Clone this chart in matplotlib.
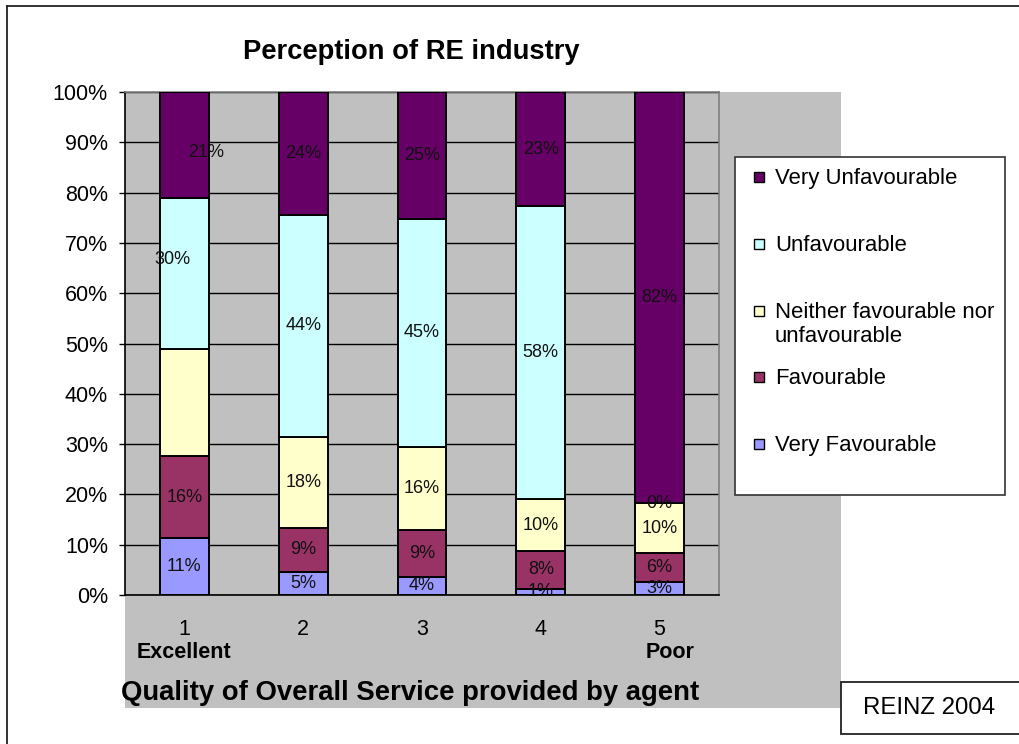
import matplotlib
matplotlib.use("Agg")
import matplotlib.pyplot as plt
from matplotlib.patches import Rectangle
from matplotlib.lines import Line2D
import numpy as np

plt.rcParams['font.family'] = ['Liberation Sans', 'DejaVu Sans']

# ---- data ----
categories = ['1', '2', '3', '4', '5']
series_names = ['Very Favourable', 'Favourable', 'Neither favourable nor\nunfavourable',
                'Unfavourable', 'Very Unfavourable']
very_fav = [11.3, 4.6, 3.6, 1.2, 2.6]
fav = [16.3, 8.7, 9.4, 7.6, 5.7]
neither = [21.3, 18.1, 16.4, 10.2, 9.9]
unfav = [30.0, 44.2, 45.4, 58.3, 0.0]
very_unfav = [21.1, 24.4, 25.2, 22.7, 81.8]
colors = ['#9999FF', '#993366', '#FFFFCC', '#CCFFFF', '#660066']
title = 'Perception of RE industry'
x_title = 'Quality of Overall Service provided by agent'
source = 'REINZ 2004'
hidden_labels = [(2, 0)]   # (series index, category index) with no data label

W, H = 1020, 744
fig = plt.figure(figsize=(W / 100, H / 100), dpi=100)

def fx(px):
    return px / W

def fy(py):
    return 1 - py / H

# outer frame (left & top visible)
fig.add_artist(Line2D([fx(7), fx(7)], [fy(6), 0], transform=fig.transFigure, color='#222222', lw=1.3))
fig.add_artist(Line2D([fx(7), 1], [fy(6), fy(6)], transform=fig.transFigure, color='#222222', lw=1.3))

# gray background area
fig.add_artist(Rectangle((fx(125), fy(708)), fx(841) - fx(125), fy(92) - fy(708),
                         transform=fig.transFigure, facecolor='#C0C0C0', edgecolor='none', zorder=0))

ax = fig.add_axes([fx(125), fy(595), fx(719) - fx(125), fy(92) - fy(595)])
ax.set_facecolor('#C0C0C0')
ax.set_zorder(1)

data = [very_fav, fav, neither, unfav, very_unfav]
x = np.arange(len(categories))
bottom = np.zeros(len(categories))
bar_w = 0.41
label_offsets = {(4, 0): (15.5, -5), (3, 0): (-8.3, 10)}  # points
for si, vals in enumerate(data):
    vals = np.array(vals)
    ax.bar(x, vals, bar_w, bottom=bottom, color=colors[si], edgecolor='black', lw=1.4, zorder=3)
    for ci, v in enumerate(vals):
        if (si, ci) in hidden_labels:
            continue
        cy = bottom[ci] + v / 2
        dx, dy = label_offsets.get((si, ci), (0, 0))
        ax.annotate(f'{v:.0f}%', (x[ci], cy), xytext=(dx, dy), textcoords='offset points',
                    ha='center', va='center', fontsize=13, color='#111111', zorder=5)
    bottom += vals

ax.set_xlim(-0.5, 4.5)
ax.set_ylim(0, 100)
ax.set_yticks(np.arange(0, 101, 10))
ax.set_yticklabels([f'{v}%' for v in range(0, 101, 10)], fontsize=15.5)
ax.set_xticks(x)
ax.set_xticklabels(categories, fontsize=15.5)
ax.tick_params(axis='x', length=0, pad=17)
ax.tick_params(axis='y', direction='out', length=4.3, width=1, pad=8)
ax.yaxis.grid(True, color='black', lw=1)
ax.set_axisbelow(True)
for s in ['top', 'right']:
    ax.spines[s].set_color('#808080')
    ax.spines[s].set_linewidth(1.2)
for s in ['left', 'bottom']:
    ax.spines[s].set_color('black')
    ax.spines[s].set_linewidth(1.2)

# titles
fig.text(fx(411), fy(52), title, ha='center', va='center', fontsize=19.7, fontweight='bold')
fig.text(fx(184), fy(653), 'Excellent', ha='center', va='center', fontsize=15.5, fontweight='bold', zorder=2)
fig.text(fx(670), fy(653), 'Poor', ha='center', va='center', fontsize=15.5, fontweight='bold', zorder=2)
fig.text(fx(410), fy(693), x_title, ha='center', va='center', fontsize=19.8, fontweight='bold', zorder=2)

# legend box (manual)
fig.add_artist(Rectangle((fx(735), fy(495)), fx(1005) - fx(735), fy(157) - fy(495),
                         transform=fig.transFigure, facecolor='white', edgecolor='#333333', lw=1.2, zorder=2))
legend_y = [177, 244, 311, 377, 444]
for k, si in enumerate([4, 3, 2, 1, 0]):
    yc = legend_y[k]
    fig.add_artist(Rectangle((fx(754), fy(yc + 5)), fx(10), 10 / H, transform=fig.transFigure,
                             facecolor=colors[si], edgecolor='black', lw=1, zorder=3))
    fig.text(fx(775), fy(yc - 9), series_names[si], ha='left', va='top', fontsize=15.9,
             zorder=3, linespacing=1.2)

# source box
fig.add_artist(Rectangle((fx(841), fy(734)), 1.05 - fx(841), fy(682) - fy(734),
                         transform=fig.transFigure, facecolor='white', edgecolor='#222222', lw=1.3, zorder=2))
fig.text(fx(929), fy(708), source, ha='center', va='center', fontsize=17.3, zorder=3)

fig.savefig('out.png', dpi=100)
